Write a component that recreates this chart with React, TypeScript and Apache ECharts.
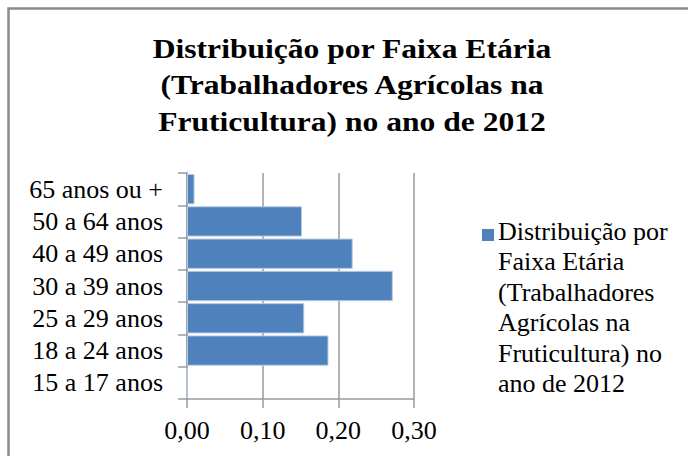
import React, { useEffect, useRef } from "react";
import * as echarts from "echarts";

const categories = [
  "15 a 17 anos",
  "18 a 24 anos",
  "25 a 29 anos",
  "30 a 39 anos",
  "40 a 49 anos",
  "50 a 64 anos",
  "65 anos ou +",
];
const values = [0, 0.187, 0.155, 0.272, 0.219, 0.152, 0.01];
const titleLines = [
  "Distribuição por Faixa Etária",
  "(Trabalhadores Agrícolas na",
  "Fruticultura) no ano de 2012",
];
const seriesName =
  "Distribuição por Faixa Etária (Trabalhadores Agrícolas na Fruticultura) no ano de 2012";
const legendLines = [
  "Distribuição por",
  "Faixa Etária",
  "(Trabalhadores",
  "Agrícolas na",
  "Fruticultura) no",
  "ano de 2012",
];

const FONT = "Liberation Serif";
const BAR = "#4f81bd";
const GRAY = "#9a9a9a";

export default function App() {
  const ref = useRef<HTMLDivElement>(null);
  useEffect(() => {
    if (!ref.current) return;
    const chart = echarts.init(ref.current, undefined, { renderer: "svg" });
    const titleY = [48.5, 85, 121.5];
    chart.setOption({
      animation: false,
      backgroundColor: "#ffffff",
      grid: { left: 187, top: 173, width: 227, height: 226, containLabel: false },
      xAxis: {
        type: "value",
        min: 0,
        max: 0.3,
        interval: 0.1,
        axisLine: { show: true, lineStyle: { color: GRAY, width: 1.5 } },
        axisTick: { show: true, length: 9, lineStyle: { color: GRAY, width: 1.5 } },
        splitLine: { show: true, lineStyle: { color: GRAY, width: 1.5 } },
        axisLabel: {
          margin: 18,
          color: "#000",
          fontFamily: FONT,
          fontSize: 26,
          formatter: (v: number) => v.toFixed(2).replace(".", ","),
        },
      },
      yAxis: {
        type: "category",
        data: categories,
        axisLine: { show: true, lineStyle: { color: GRAY, width: 1.5 } },
        axisTick: { show: true, length: 9, lineStyle: { color: GRAY, width: 1.5 } },
        axisLabel: {
          interval: 0,
          margin: 24,
          color: "#000",
          fontFamily: FONT,
          fontSize: 26,
        },
      },
      series: [
        {
          name: seriesName,
          type: "bar",
          data: values,
          barCategoryGap: "6%",
          itemStyle: { color: BAR, borderColor: "#b8cce4", borderWidth: 1 },
        },
      ],
      graphic: [
        {
          type: "rect",
          shape: { x: 8.5, y: 8.5, width: 720, height: 480 },
          style: { fill: "none", stroke: "#8a8a8a", lineWidth: 2.5 },
          silent: true,
        },
        ...titleLines.map((t, i) => ({
          type: "text",
          x: 352,
          y: titleY[i],
          scaleX: 1.17,
          style: {
            text: t,
            fontFamily: FONT,
            fontSize: 27,
            fontWeight: "bold",
            fill: "#000",
            align: "center",
            verticalAlign: "middle",
          },
        })),
        {
          type: "rect",
          shape: { x: 482, y: 229, width: 12, height: 12 },
          style: { fill: BAR },
        },
        {
          type: "text",
          x: 498,
          y: 216,
          style: {
            text: legendLines.join("\n"),
            fontFamily: FONT,
            fontSize: 26,
            lineHeight: 30.5,
            fill: "#000",
            align: "left",
            verticalAlign: "top",
          },
        },
      ],
    });
    return () => chart.dispose();
  }, []);
  return (
    <div
      ref={ref}
      style={{ position: "absolute", left: 0, top: 0, width: 688, height: 456, background: "#fff" }}
    />
  );
}
